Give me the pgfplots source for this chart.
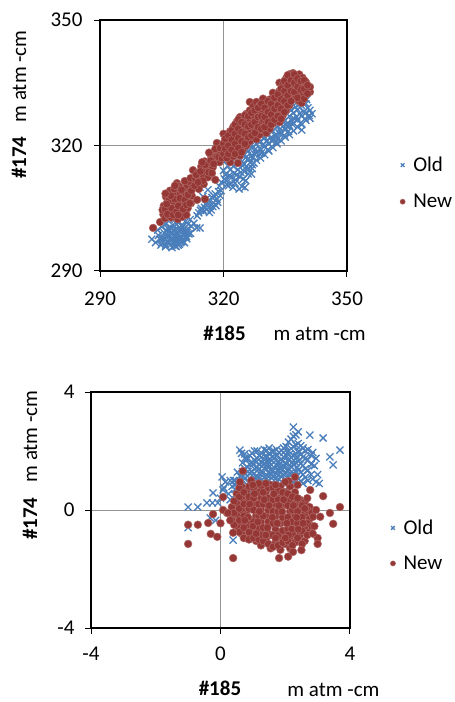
\documentclass[border=0pt]{standalone}
\usepackage{fontspec}
\setmainfont{Carlito}
\usepackage{pgfplots}
\pgfplotsset{compat=1.18}
\definecolor{oldblue}{HTML}{4A7EBB}
\definecolor{newred}{HTML}{953735}
\pgfplotsset{
  excel/.style={
    scale only axis,
    axis line style={black, line width=1.2pt},
    tick pos=left,
    tick align=outside,
    major tick length=6pt,
    tick style={black, line width=1pt},
    grid=major,
    major grid style={gray!85, line width=0.8pt},
    tick label style={font=\fontsize{21}{25}\selectfont},
    label style={font=\fontsize{21}{25}\selectfont},
    /pgf/number format/assume math mode=true,
    legend style={draw=none, fill=none, font=\fontsize{21}{25}\selectfont, inner sep=0pt, column sep=6pt},
    legend cell align=left,
    legend image code/.code={\draw[mark repeat=2,mark phase=2,#1] plot coordinates {(0pt,0pt) (4pt,0pt) (8pt,0pt)};},
    legend image post style={mark size=2.6pt},
  },
  oldmark/.style={only marks, mark=x, mark size=5pt, color=oldblue, line width=1.3pt, mark options={line width=1.3pt}},
  newmark/.style={only marks, mark=*, mark size=3.9pt, color=newred, mark options={fill=newred, draw=newred!75!white, line width=0.5pt}},
}
\begin{document}
\begin{tikzpicture}
\path[use as bounding box] (0pt,0pt) rectangle (455pt,702pt);
% ---------------- top plot ----------------
\begin{axis}[excel,
  at={(100pt,431pt)}, anchor=south west,
  width=247pt, height=251pt,
  xmin=290, xmax=350, ymin=290, ymax=350,
  xtick={290,320,350}, ytick={290,320,350},
  xticklabels={290,320,350}, yticklabels={290,320,350},
  xticklabel style={yshift=-11pt},
  yticklabel style={xshift=-8pt},
  xlabel={\textbf{\#185}\hspace{28pt}m atm -cm},
  xlabel style={at={(axis description cs:0.747,-0.247)}, anchor=center},
  ylabel={\textbf{\#174}\hspace{14pt}m atm -cm},
  ylabel style={at={(axis description cs:-0.328,0.663)}, anchor=center},
  legend style={at={(axis description cs:1.214,0.35)}, anchor=west, row sep=17pt},
]
\addplot[oldmark] coordinates {
(302.6,297.6) (303.5,296.8) (304.2,298.5) (304.8,296.2) (305.3,297.4) (305.6,299.1) (305.9,295.8) (306.2,298.0) (306.5,300.2) (306.8,296.7)
(307.0,297.9) (307.3,299.3) (307.5,295.6) (307.7,301.0) (307.9,296.9) (308.1,298.4) (308.3,300.0) (308.5,295.9) (308.7,297.3) (308.9,299.0)
(309.1,301.5) (309.3,296.4) (309.5,298.1) (309.7,299.7) (309.9,297.0) (310.1,300.6) (310.3,298.6) (310.5,296.8) (310.7,301.8) (310.9,299.4)
(311.1,297.7) (311.3,300.1) (311.6,298.9) (311.9,302.3) (312.2,300.7) (306.0,301.2) (304.0,299.8) (305.0,300.5) (306.8,302.4) (308.0,302.8)
(309.0,302.0) (310.0,303.0) (307.4,298.8) (308.6,298.9) (309.4,297.5) (306.4,297.0) (310.6,299.2) (305.2,298.0) (311.0,298.3) (312.0,299.0)
(313.5,300.3) (314.3,300.3) (312.8,301.4)
(305.0,296.5) (305.6,297.8) (306.0,296.2) (306.6,298.6) (307.1,296.3) (307.6,297.6) (308.0,299.6) (308.4,297.0) (308.8,298.2) (309.2,299.6)
(309.6,296.8) (310.0,298.0) (310.4,299.8) (310.8,298.0) (311.2,299.2) (307.2,300.4) (306.2,299.6) (309.8,300.8) (308.6,301.2) (311.4,301.2)
(304.6,297.6) (306.9,299.6) (308.2,296.0) (309.0,296.2)
(314.0,303.9) (314.6,305.0) (315.2,304.2) (315.6,306.0) (316.0,304.8) (316.4,306.9) (316.8,305.5) (317.2,307.6) (317.6,306.3) (318.0,308.4)
(318.4,307.2) (318.8,309.0) (319.2,308.0) (314.3,310.0) (316.2,309.4) (315.0,307.8) (317.0,304.6) (318.2,305.6) (319.0,310.3) (315.0,304.6)
(314.4,304.5) (315.4,305.2) (316.2,306.0) (316.6,304.0) (317.4,305.4) (317.8,307.8) (318.6,306.4) (319.4,309.2) (315.8,307.2) (313.6,303.2)
(319.5,311.2) (320.2,312.0) (320.8,310.6) (321.4,312.8) (321.8,311.0) (322.3,310.0) (322.6,313.4) (323.0,311.8) (323.5,314.2) (324.0,312.5)
(324.5,310.2) (325.0,313.8) (325.2,310.0) (325.6,315.0) (326.0,313.2) (326.5,316.0) (327.0,314.5) (320.0,314.0) (321.0,315.2) (322.0,316.0)
(320.4,320.6) (321.5,318.5) (322.8,317.2) (324.2,316.6) (319.8,316.5) (323.8,309.6)
(320.6,311.6) (321.2,310.4) (322.0,312.4) (322.8,311.0) (323.2,313.0) (324.2,313.6) (324.8,312.0) (325.4,311.6) (326.2,314.4) (326.8,313.2)
(327.4,315.8) (320.5,313.0) (321.6,314.2) (322.4,315.0) (323.4,316.0) (324.6,315.2) (325.8,316.6) (321.0,317.0) (322.2,318.2)
(325,315.5) (325,318.0) (325,320.0) (326,316.8) (326,318.6) (326,314.6) (327,317.0) (327,319.5) (327,315.4) (328,318.2)
(328,320.3) (328,316.5) (329,319.0) (329,321.0) (329,317.0) (330,319.8) (330,322.0) (330,317.8) (331,320.4) (331,322.6)
(331,318.7) (332,321.5) (332,323.5) (332,319.5) (333,322.0) (333,324.4) (333,320.4) (334,323.0) (334,325.2) (334,321.1)
(335,323.8) (335,326.0) (335,322.0) (336,324.8) (336,327.0) (336,322.6) (337,325.4) (337,327.8) (337,323.5) (337,331.0)
(338,326.2) (338,328.6) (338,324.4) (338,330.5) (339,327.0) (339,329.5) (339,325.0) (339,323.7) (339,330.8) (340,327.8)
(340,330.0) (340,326.0) (341,328.4) (341,326.5) (341.5,327.6)
(325.5,317.2) (326.5,319.8) (327.5,318.0) (328.5,321.5) (329.5,320.0) (330.5,321.2) (331.5,323.8) (332.5,322.4) (333.5,323.0) (334.5,324.6)
(335.5,325.3) (336.5,326.0) (337.5,329.2) (338.5,327.6) (339.5,328.0) (340.5,329.0)
(325.8,319.0) (326.8,317.6) (327.8,319.2) (328.8,318.0) (329.8,321.6) (330.8,319.0) (331.8,321.0) (332.8,320.8) (333.8,324.0) (334.8,322.4)
(335.8,323.4) (336.8,325.0) (337.8,326.8) (338.8,325.4) (339.8,326.4) (340.8,327.2) (329.2,318.2) (331.4,321.8) (333.2,321.6) (335.4,324.6)
(337.2,326.4) (339.4,330.0) (340.2,331.0) (338.2,329.6) (336.4,328.4) (334.2,326.0)
};
\addlegendentry{Old}
\addplot[newmark] coordinates {
(302.9,300.3) (304.6,301.7) (305.4,303.5) (305.5,305.6) (305.8,302.6) (306.2,304.5) (306.4,306.6) (306.6,303.2) (306.9,305.4) (307.1,307.5)
(307.3,302.8) (307.6,304.2) (307.8,306.0) (308.0,308.2) (308.2,303.5) (308.4,305.1) (308.6,307.0) (308.7,311.0) (308.9,302.4) (309.1,304.6)
(309.3,306.4) (309.5,308.5) (309.7,303.2) (309.9,305.8) (310.1,307.6) (310.3,309.8) (310.5,304.0) (310.7,306.2) (310.9,308.4) (311.1,310.2)
(311.3,305.0) (311.5,307.0) (311.7,309.0) (311.9,311.2) (312.1,306.2) (312.3,308.0) (312.5,310.0) (306.0,307.8) (307.0,309.2) (308.0,309.6)
(309.2,310.2) (305.2,304.6) (310.0,303.0) (311.0,303.4) (313.6,307.0) (315.5,307.2) (308.5,310.4) (310.6,311.5) (312.0,312.2)
(305.8,304.8) (306.4,303.6) (306.8,307.0) (307.4,305.0) (307.8,303.4) (308.2,307.2) (308.6,304.2) (309.0,305.6) (309.4,307.4) (309.8,309.4)
(310.2,304.8) (310.6,307.0) (311.0,305.8) (311.4,308.2) (311.8,306.2) (307.2,308.0) (306.2,306.0) (308.2,310.4) (309.0,303.4) (312.2,309.2)
(305.9,308.5)
(312.6,314.1) (313.2,312.0) (313.8,313.5) (314.2,311.5) (314.6,315.0) (315.0,313.0) (315.4,316.2) (315.8,314.2) (316.2,312.4) (316.6,315.8)
(317.0,317.4) (317.4,314.8) (317.8,316.8) (318.2,318.8) (318.4,320.6) (319.0,316.0) (319.4,318.0) (319.8,320.2) (314.0,309.6) (315.2,310.8)
(316.5,318.3) (313.0,310.4) (318.0,311.8) (318.4,317.3) (321.6,316.0) (323.5,315.8)
(313.4,313.0) (314.4,313.8) (315.0,311.6) (315.6,315.4) (316.4,313.6) (316.9,316.4) (317.6,315.6) (318.0,319.2) (318.8,317.2) (319.2,319.4)
(313.8,311.2) (317.2,313.4) (314.8,316.0) (319.6,317.0)
(320.0,318.0) (320.0,320.5) (320.0,322.8) (320.8,317.0) (320.8,319.4) (320.8,321.6) (321.6,318.4) (321.6,320.8) (321.6,323.4) (322.4,317.4)
(322.4,319.8) (322.4,322.2) (322.4,324.5) (323.2,318.8) (323.2,321.0) (323.2,323.4) (323.2,325.6) (324.0,317.6) (324.0,320.0) (324.0,322.4)
(324.0,324.6) (324.0,326.8) (324.8,319.2) (324.8,321.6) (324.8,323.8) (324.8,326.0) (325.6,320.0) (325.6,322.6) (325.6,325.0) (325.6,327.6)
(326.4,321.0) (326.4,323.4) (326.4,326.0) (326.4,328.4) (326.4,330.4) (327.2,322.0) (327.2,324.5) (327.2,327.0) (327.2,329.4) (328.0,321.5)
(328.0,323.6) (328.0,325.8) (328.0,328.0) (328.0,330.4) (328.8,322.6) (328.8,325.0) (328.8,327.2) (328.8,329.6) (329.6,323.6) (329.6,326.2)
(329.6,328.5) (329.6,331.2) (330.4,323.0) (330.4,325.4) (330.4,327.6) (330.4,330.0) (331.2,324.0) (331.2,326.6) (331.2,329.0) (331.2,331.0)
(332.0,325.2) (332.0,327.8) (332.0,330.2) (332.0,332.6) (332.8,326.4) (332.8,329.0) (332.8,331.4) (333.6,325.6) (333.6,328.0) (333.6,330.4)
(333.6,333.0) (333.6,335.0) (334.4,327.2) (334.4,329.6) (334.4,332.0) (334.4,334.6) (335.2,328.4) (335.2,331.0) (335.2,333.4) (335.2,336.0)
(336.0,329.6) (336.0,332.2) (336.0,334.8) (336.0,337.0) (336.9,331.0) (336.9,333.4) (336.9,335.6) (336.9,337.3) (337.6,332.0) (337.6,334.6)
(337.6,336.6) (338.4,330.6) (338.4,333.0) (338.4,335.6) (338.4,337.0) (339.2,332.0) (339.2,334.2) (339.2,336.2) (340.0,333.0) (340.0,335.2)
(341.0,332.8) (341.0,334.0) (339.0,330.2)
(320.4,319.2) (320.4,321.6) (321.2,318.0) (321.2,320.0) (321.2,322.4) (322.0,319.0) (322.0,321.4) (322.0,323.6) (322.8,318.0) (322.8,320.4)
(322.8,322.8) (322.8,325.0) (323.6,319.4) (323.6,321.8) (323.6,324.0) (323.6,326.2) (324.4,318.4) (324.4,321.0) (324.4,323.2) (324.4,325.6)
(325.2,320.4) (325.2,322.8) (325.2,325.0) (325.2,327.2) (326.0,322.0) (326.0,324.6) (326.0,327.0) (326.8,322.4) (326.8,325.0) (326.8,327.8)
(327.6,323.0) (327.6,325.6) (327.6,328.4) (328.4,324.4) (328.4,326.8) (328.4,329.0) (329.2,324.0) (329.2,327.0) (329.2,330.0) (330.0,324.4)
(330.0,326.8) (330.0,329.0) (330.8,325.6) (330.8,328.0) (330.8,330.6) (331.6,325.0) (331.6,327.4) (331.6,330.0) (332.4,326.2) (332.4,328.8)
(332.4,331.4) (333.2,327.0) (333.2,329.6) (333.2,332.2) (334.0,326.4) (334.0,328.8) (334.0,331.0) (334.0,333.6) (334.8,328.0) (334.8,330.6)
(334.8,333.0) (334.8,335.4) (335.6,329.6) (335.6,332.0) (335.6,334.4) (335.6,336.8) (336.4,330.6) (336.4,333.0) (336.4,335.6) (337.2,332.8)
(337.2,335.0) (337.2,337.0) (338.0,331.4) (338.0,334.0) (338.0,336.0) (338.8,333.4) (338.8,335.4) (339.6,331.2) (339.6,333.6) (339.6,335.6)
(340.4,332.4) (340.4,334.4)
};
\addlegendentry{New}
\end{axis}
% ---------------- bottom plot ----------------
\begin{axis}[excel,
  at={(91pt,74pt)}, anchor=south west,
  width=259pt, height=236pt,
  xmin=-4, xmax=4, ymin=-4, ymax=4,
  xtick={-4,0,4}, ytick={-4,0,4},
  xticklabels={-4,0,4}, yticklabels={-4,0,4},
  xticklabel style={yshift=-9pt},
  yticklabel style={xshift=-7pt},
  xlabel={\textbf{\#185}},
  xlabel style={at={(axis description cs:0.498,-0.254)}, anchor=center},
  ylabel={\textbf{\#174}\hspace{15pt}m atm -cm},
  ylabel style={at={(axis description cs:-0.2355,0.69)}, anchor=center},
  legend style={at={(axis description cs:1.155,0.35)}, anchor=west, row sep=16pt},
  after end axis/.code={\node[font=\fontsize{21}{25}\selectfont] at (axis description cs:0.936,-0.262) {m atm -cm};},
]
\addplot[oldmark] coordinates {
(0.45,0.70) (0.45,1.00) (0.6,0.55) (0.6,0.85) (0.6,1.15) (0.6,2.03) (0.75,0.75) (0.75,1.05) (0.75,1.40) (0.75,1.75)
(0.75,1.90) (0.9,0.60) (0.9,0.95) (0.9,1.25) (0.9,1.55) (0.9,1.85) (1.05,0.80) (1.05,1.10) (1.05,1.40) (1.05,1.70)
(1.05,2.00) (1.2,0.65) (1.2,0.95) (1.2,1.25) (1.2,1.55) (1.2,1.85) (1.35,0.80) (1.35,1.10) (1.35,1.40) (1.35,1.70)
(1.35,2.05) (1.5,0.70) (1.5,1.00) (1.5,1.30) (1.5,1.60) (1.5,1.90) (1.5,2.10) (1.65,0.85) (1.65,1.15) (1.65,1.45)
(1.65,1.75) (1.65,2.00) (1.8,0.75) (1.8,1.05) (1.8,1.35) (1.8,1.65) (1.8,1.95) (1.95,0.90) (1.95,1.20) (1.95,1.50)
(1.95,1.80) (1.95,2.10) (2.1,0.80) (2.1,1.10) (2.1,1.40) (2.1,1.70) (2.1,2.00) (2.1,2.30) (2.25,0.95) (2.25,1.25)
(2.25,1.55) (2.25,1.85) (2.25,2.15) (2.25,2.50) (2.25,2.81) (2.4,1.05) (2.4,1.35) (2.4,1.65) (2.4,1.95) (2.4,2.25)
(2.4,2.65) (2.55,0.90) (2.55,1.20) (2.55,1.50) (2.55,1.80) (2.55,2.10) (2.7,1.00) (2.7,1.35) (2.7,1.70) (2.7,2.05)
(1.0,1.55) (1.3,1.25) (1.6,1.30) (1.9,1.35) (2.2,1.45) (1.4,1.85) (1.75,1.50) (2.0,1.60) (1.15,1.10) (2.35,1.80)
(0.52,0.62) (0.52,0.92) (0.52,1.28) (0.68,0.70) (0.68,1.00) (0.68,1.30) (0.68,1.60) (0.83,0.85) (0.83,1.15) (0.83,1.45)
(0.83,1.72) (0.98,0.70) (0.98,1.00) (0.98,1.30) (0.98,1.62) (0.98,1.92) (1.13,0.85) (1.13,1.15) (1.13,1.45) (1.13,1.75)
(1.13,2.00) (1.28,0.72) (1.28,1.02) (1.28,1.32) (1.28,1.62) (1.28,1.92) (1.43,0.88) (1.43,1.18) (1.43,1.48) (1.43,1.78)
(1.43,2.02) (1.58,0.78) (1.58,1.08) (1.58,1.38) (1.58,1.68) (1.58,1.98) (1.73,0.92) (1.73,1.22) (1.73,1.52) (1.73,1.82)
(1.73,2.05) (1.88,0.82) (1.88,1.12) (1.88,1.42) (1.88,1.72) (1.88,2.02) (2.03,0.95) (2.03,1.25) (2.03,1.55) (2.03,1.85)
(2.03,2.15) (2.18,0.88) (2.18,1.18) (2.18,1.48) (2.18,1.78) (2.18,2.08) (2.18,2.40) (2.33,1.00) (2.33,1.30) (2.33,1.60)
(2.33,1.90) (2.33,2.20) (2.33,2.55) (2.48,0.98) (2.48,1.28) (2.48,1.58) (2.48,1.88) (2.48,2.18) (2.62,1.10) (2.62,1.40)
(2.62,1.75) (2.62,2.00) (2.80,1.20) (2.80,1.55) (2.80,1.85)
(1.02,1.22) (1.17,1.37) (1.32,1.52) (1.47,1.67) (1.62,1.82) (1.77,1.37) (1.92,1.65) (2.07,1.32) (2.22,1.62) (2.37,1.45)
(1.10,1.62) (1.25,1.78) (1.40,1.05) (1.55,1.20) (1.70,1.05) (1.85,1.25) (2.00,1.05) (2.15,1.25) (2.30,1.15) (2.45,1.70)
(1.22,1.08) (1.52,1.48) (1.82,1.55) (2.12,1.88) (2.42,2.00) (1.65,1.62) (1.95,1.95) (1.35,1.58) (0.85,1.30) (0.70,1.15)
(2.76,2.54) (3.17,2.44) (3.69,2.03) (3.38,1.80) (3.48,1.53) (2.95,1.75) (2.90,1.50) (3.00,1.20) (2.85,1.05) (2.95,0.95)
(3.05,0.90) (2.85,1.95) (0.65,1.92) (0.05,1.12) (0.15,0.95) (-0.23,0.58) (-1.0,0.10) (-0.7,0.10) (-0.42,0.24) (-0.25,0.24)
(-0.08,0.24) (-1.0,-0.60) (0.39,-1.02) (-0.32,-0.27) (0.30,1.00) (0.40,1.00) (0.10,0.75) (0.25,0.55) (0.30,0.35) (0.0,0.40)
(-0.15,-0.35) (0.08,0.68) (0.45,0.85) (0.36,0.80)
};
\addlegendentry{Old}
\addplot[newmark] coordinates {
(0.35,-0.30) (0.35,0.10) (0.5,-0.55) (0.5,-0.15) (0.5,0.25) (0.5,0.55) (0.65,-0.80) (0.65,-0.40) (0.65,0.00) (0.65,0.40)
(0.65,0.80) (0.8,-0.95) (0.8,-0.55) (0.8,-0.15) (0.8,0.25) (0.8,0.65) (0.95,-0.75) (0.95,-0.35) (0.95,0.05) (0.95,0.45)
(0.95,0.85) (1.1,-1.05) (1.1,-0.60) (1.1,-0.20) (1.1,0.20) (1.1,0.60) (1.25,-1.20) (1.25,-0.80) (1.25,-0.40) (1.25,0.00)
(1.25,0.40) (1.25,0.80) (1.4,-1.00) (1.4,-0.60) (1.4,-0.20) (1.4,0.20) (1.4,0.60) (1.55,-1.30) (1.55,-0.85) (1.55,-0.40)
(1.55,0.00) (1.55,0.40) (1.55,0.85) (1.7,-1.10) (1.7,-0.65) (1.7,-0.20) (1.7,0.20) (1.7,0.60) (1.85,-1.35) (1.85,-0.90)
(1.85,-0.45) (1.85,0.00) (1.85,0.40) (1.85,0.80) (2.0,-1.15) (2.0,-0.70) (2.0,-0.25) (2.0,0.20) (2.0,0.60) (2.15,-1.30)
(2.15,-0.90) (2.15,-0.45) (2.15,-0.05) (2.15,0.35) (2.15,0.80) (2.3,-1.10) (2.3,-0.65) (2.3,-0.20) (2.3,0.20) (2.3,0.60)
(2.45,-0.85) (2.45,-0.40) (2.45,0.00) (2.45,0.35) (2.6,-1.05) (2.6,-0.60) (2.6,-0.15) (2.6,0.25) (2.75,-0.75) (2.75,-0.30)
(2.75,0.10)
(0.42,-0.50) (0.42,-0.10) (0.42,0.30) (0.58,-0.75) (0.58,-0.35) (0.58,0.05) (0.58,0.45) (0.58,0.75) (0.72,-0.95) (0.72,-0.60)
(0.72,-0.20) (0.72,0.20) (0.72,0.60) (0.88,-1.00) (0.88,-0.75) (0.88,-0.35) (0.88,0.05) (0.88,0.45) (0.88,0.80) (1.02,-0.95)
(1.02,-0.40) (1.02,0.00) (1.02,0.40) (1.02,0.75) (1.18,-1.00) (1.18,-0.60) (1.18,-0.20) (1.18,0.20) (1.18,0.60) (1.18,0.90)
(1.32,-1.05) (1.32,-0.60) (1.32,-0.20) (1.32,0.20) (1.32,0.60) (1.48,-1.15) (1.48,-0.80) (1.48,-0.40) (1.48,0.00) (1.48,0.40)
(1.48,0.75) (1.62,-1.25) (1.62,-0.85) (1.62,-0.45) (1.62,-0.05) (1.62,0.35) (1.62,0.75) (1.78,-1.20) (1.78,-0.85) (1.78,-0.45)
(1.78,-0.05) (1.78,0.35) (1.78,0.65) (1.92,-1.10) (1.92,-0.70) (1.92,-0.25) (1.92,0.20) (1.92,0.60) (2.08,-1.05) (2.08,-0.65)
(2.08,-0.25) (2.08,0.15) (2.08,0.55) (2.22,-1.20) (2.22,-0.80) (2.22,-0.40) (2.22,0.00) (2.22,0.45) (2.38,-0.95) (2.38,-0.45)
(2.38,-0.05) (2.38,0.40) (2.38,0.85) (2.52,-1.15) (2.52,-0.70) (2.52,-0.25) (2.52,0.15) (2.68,-0.85) (2.68,-0.45) (2.68,0.00)
(2.68,0.40) (2.82,-0.55) (2.82,-0.10)
(0.85,-0.25) (1.00,-0.55) (1.15,-0.40) (1.30,-0.85) (1.45,-0.60) (1.60,-0.25) (1.75,-0.45) (1.90,-0.05) (2.05,-0.45) (2.20,-0.65)
(2.35,-0.25) (0.90,0.20) (1.05,0.55) (1.20,-0.05) (1.35,0.35) (1.50,0.15) (1.65,0.55) (1.80,0.15) (1.95,0.35) (2.10,-0.85)
(2.25,0.15) (2.40,-0.65) (1.40,-0.85) (1.70,-0.95) (2.00,-0.95) (1.10,-0.80) (0.75,-0.35) (2.55,-0.45) (2.60,0.05)
(0.69,1.32) (0.60,0.95) (0.08,0.44) (-1.0,-0.50) (-1.0,-1.15) (-0.7,-0.50) (-0.38,-0.44) (-0.23,-0.14) (-0.30,-0.81) (-0.10,-0.91)
(0.0,-0.45) (0.20,-0.10) (0.39,-0.77) (0.39,-1.63) (1.81,-1.63) (2.09,-1.58) (2.24,-1.42) (2.86,-0.23) (3.08,-0.23) (3.17,0.47)
(3.38,-0.10) (3.48,-0.47) (3.69,0.10) (3.0,-0.95) (3.0,-1.15) (2.5,-1.36) (2.77,0.68) (2.30,1.12) (2.10,0.98) (2.00,0.95)
(1.40,0.90) (1.70,0.85) (0.95,1.00) (1.00,0.85) (2.90,-0.55) (2.95,0.00) (2.85,-0.80) (0.30,-0.35) (0.08,0.00) (0.23,-0.10)
};
\addlegendentry{New}
\end{axis}
\end{tikzpicture}
\end{document}
